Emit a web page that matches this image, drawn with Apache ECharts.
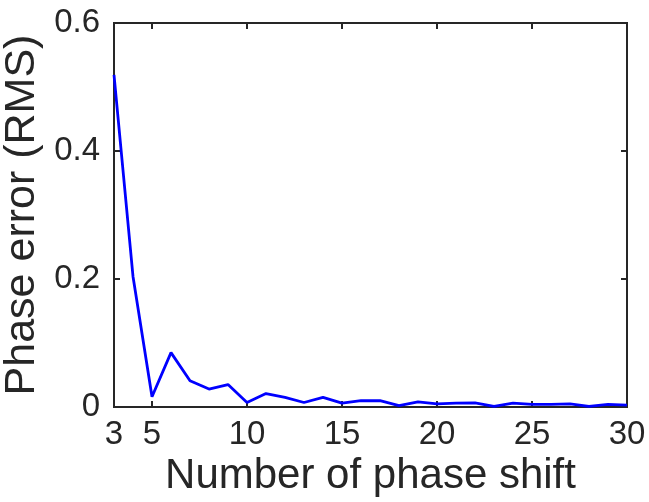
<!DOCTYPE html>
<html>
<head>
<meta charset="utf-8">
<script src="https://cdn.jsdelivr.net/npm/echarts@6/dist/echarts.min.js"></script>
<style>
  html, body { margin: 0; padding: 0; background: #fff; }
  #chart { width: 649px; height: 502px; }
</style>
</head>
<body>
<div id="chart"></div>
<script>
  // phase shift count vs RMS phase error
  var shifts = [3, 4, 5, 6, 7, 8, 9, 10, 11, 12, 13, 14, 15, 16, 17, 18, 19, 20, 21, 22, 23, 24, 25, 26, 27, 28, 29, 30];
  var rmsError = [0.519, 0.204, 0.016, 0.085, 0.041, 0.028, 0.035, 0.007, 0.021, 0.015, 0.007, 0.015, 0.006, 0.010,
                  0.0098, 0.002, 0.008, 0.005, 0.006, 0.0065, 0.001, 0.006, 0.004, 0.004, 0.005, 0.001, 0.004, 0.003];
  var xLabelValues = [3, 5, 10, 15, 20, 25, 30];
  var xTickValues = [5, 10, 15, 20, 25, 30];

  var axisColor = '#262626';
  var fontFam = '"Liberation Sans", Arial, sans-serif';

  var points = shifts.map(function (s, i) { return [s, rmsError[i]]; });

  var tickStyle = { color: axisColor, width: 2 };
  var plotRect = { left: 114, right: 22, top: 23, bottom: 95, outerBoundsMode: 'none', containLabel: false };
  var plotHeight = 502 - 23 - 95;

  var option = {
    animation: false,
    backgroundColor: '#fff',
    grid: [
      Object.assign({ show: true, borderColor: axisColor, borderWidth: 2, backgroundColor: 'transparent' }, plotRect),
      // second grid on the same rect, only for the top/right ticks
      Object.assign({}, plotRect)
    ],
    xAxis: [
      {
        type: 'value',
        gridIndex: 0,
        position: 'bottom',
        min: 3,
        max: 30,
        name: 'Number of phase shift',
        nameLocation: 'middle',
        nameGap: 30,
        nameTextStyle: { fontSize: 42, color: axisColor, fontFamily: fontFam },
        axisLine: { onZero: false, lineStyle: tickStyle },
        axisTick: { inside: true, length: 6, lineStyle: tickStyle, customValues: xTickValues },
        axisLabel: { fontSize: 33, color: axisColor, fontFamily: fontFam, margin: 11, customValues: xLabelValues },
        splitLine: { show: false }
      },
      {
        // moved up to the top edge; outward ticks of a bottom axis point down into the plot
        type: 'value',
        gridIndex: 1,
        position: 'bottom',
        offset: -plotHeight,
        min: 3,
        max: 30,
        axisLine: { show: true, onZero: false, lineStyle: tickStyle },
        axisTick: { show: true, inside: false, length: 6, lineStyle: tickStyle, customValues: xTickValues },
        axisLabel: { show: false },
        splitLine: { show: false }
      }
    ],
    yAxis: [
      {
        type: 'value',
        gridIndex: 0,
        position: 'left',
        min: 0,
        max: 0.6,
        interval: 0.2,
        name: 'Phase error (RMS)',
        nameLocation: 'middle',
        nameGap: 64,
        nameTextStyle: { fontSize: 43, color: axisColor, fontFamily: fontFam },
        axisLine: { show: true, onZero: false, lineStyle: tickStyle },
        axisTick: { show: true, inside: true, length: 6, lineStyle: tickStyle },
        axisLabel: { fontSize: 33, color: axisColor, fontFamily: fontFam, margin: 14 },
        splitLine: { show: false }
      },
      {
        type: 'value',
        gridIndex: 1,
        position: 'right',
        min: 0,
        max: 0.6,
        interval: 0.2,
        axisLine: { show: true, onZero: false, lineStyle: tickStyle },
        axisTick: { show: true, inside: true, length: 6, lineStyle: tickStyle },
        axisLabel: { show: false },
        splitLine: { show: false }
      }
    ],
    series: [
      {
        type: 'line',
        xAxisIndex: 0,
        yAxisIndex: 0,
        data: points,
        showSymbol: false,
        lineStyle: { color: '#0000ff', width: 2.8 },
        itemStyle: { color: '#0000ff' }
      },
      {
        type: 'line',
        xAxisIndex: 1,
        yAxisIndex: 1,
        data: [],
        silent: true
      }
    ]
  };

  var chart = echarts.init(document.getElementById('chart'));
  chart.setOption(option);
</script>
</body>
</html>
